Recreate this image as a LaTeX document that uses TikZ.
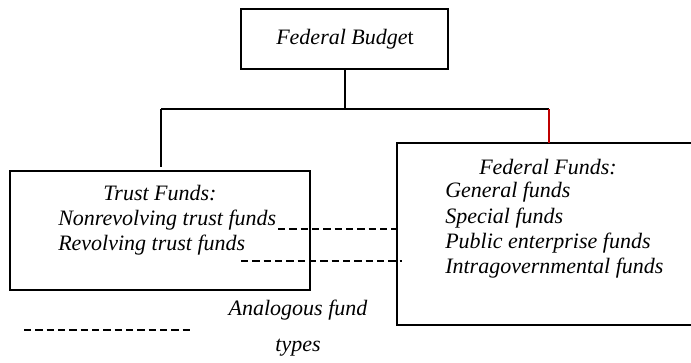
\documentclass[tikz,border=0pt]{standalone}
\usepackage{fontspec}
\setmainfont{Liberation Serif}
\begin{document}
\begin{tikzpicture}[x=0.75pt,y=-0.75pt,
  box/.style={draw,line width=1.9pt,fill=white},
  link/.style={draw,line width=1.1pt},
  analog/.style={draw,line width=1pt,dash pattern=on 5.5pt off 3pt},
  lbl/.style={font=\itshape\fontsize{16.5}{18}\selectfont,inner sep=0pt}]
\useasboundingbox (0,0) rectangle (691,362);

% boxes
\path[box] (241,9) rectangle (448,69);
\node[lbl] (budget) at (345,39) {Federal Budge\upshape t};
\coordinate (budgetS) at (345,69);

\path[box] (10,171) rectangle (310,290);
\path[box] (397,143) rectangle (700,325);

% tree connectors
\coordinate (split) at (345,109);
\coordinate (leftT) at (161,109);
\coordinate (rightT) at (549,109);
\coordinate (trustN) at (161,167);
\coordinate (fedN) at (549,143);
\draw[link] (budgetS) -- (split);
\draw[link] (leftT) -- (rightT);
\draw[link] (leftT) -- (trustN);
\draw[link,draw=red!75!black,line width=0.8pt] (rightT) -- (fedN);

% trust funds text
\node[lbl] (trust) at (160,193) {Trust Funds:};
\node[lbl,anchor=west] (nonrev) at (58,220) {Nonrevolving trust funds};
\node[lbl,anchor=west] (rev) at (58,245) {Revolving trust funds};

% federal funds text
\node[lbl] (fed) at (548,167) {Federal Funds:};
\node[lbl,anchor=west] (gen) at (445,192) {General funds};
\node[lbl,anchor=west] (spec) at (445,218) {Special funds};
\node[lbl,anchor=west] (pub) at (445,243) {Public enterprise funds};
\node[lbl,anchor=west] (intra) at (445,268) {Intragovernmental funds};

% analogous fund links
\coordinate (a1) at (278,229);
\coordinate (b1) at (398,229);
\coordinate (a2) at (241,261);
\coordinate (b2) at (402,261);
\draw[analog] (a1) -- (b1);
\draw[analog] (a2) -- (b2);

% legend
\coordinate (k1) at (24,330);
\coordinate (k2) at (193,330);
\draw[analog] (k1) -- (k2);
\node[lbl] (legA) at (298,310) {Analogous fund};
\node[lbl] (legB) at (298,348) {types};
\end{tikzpicture}
\end{document}
